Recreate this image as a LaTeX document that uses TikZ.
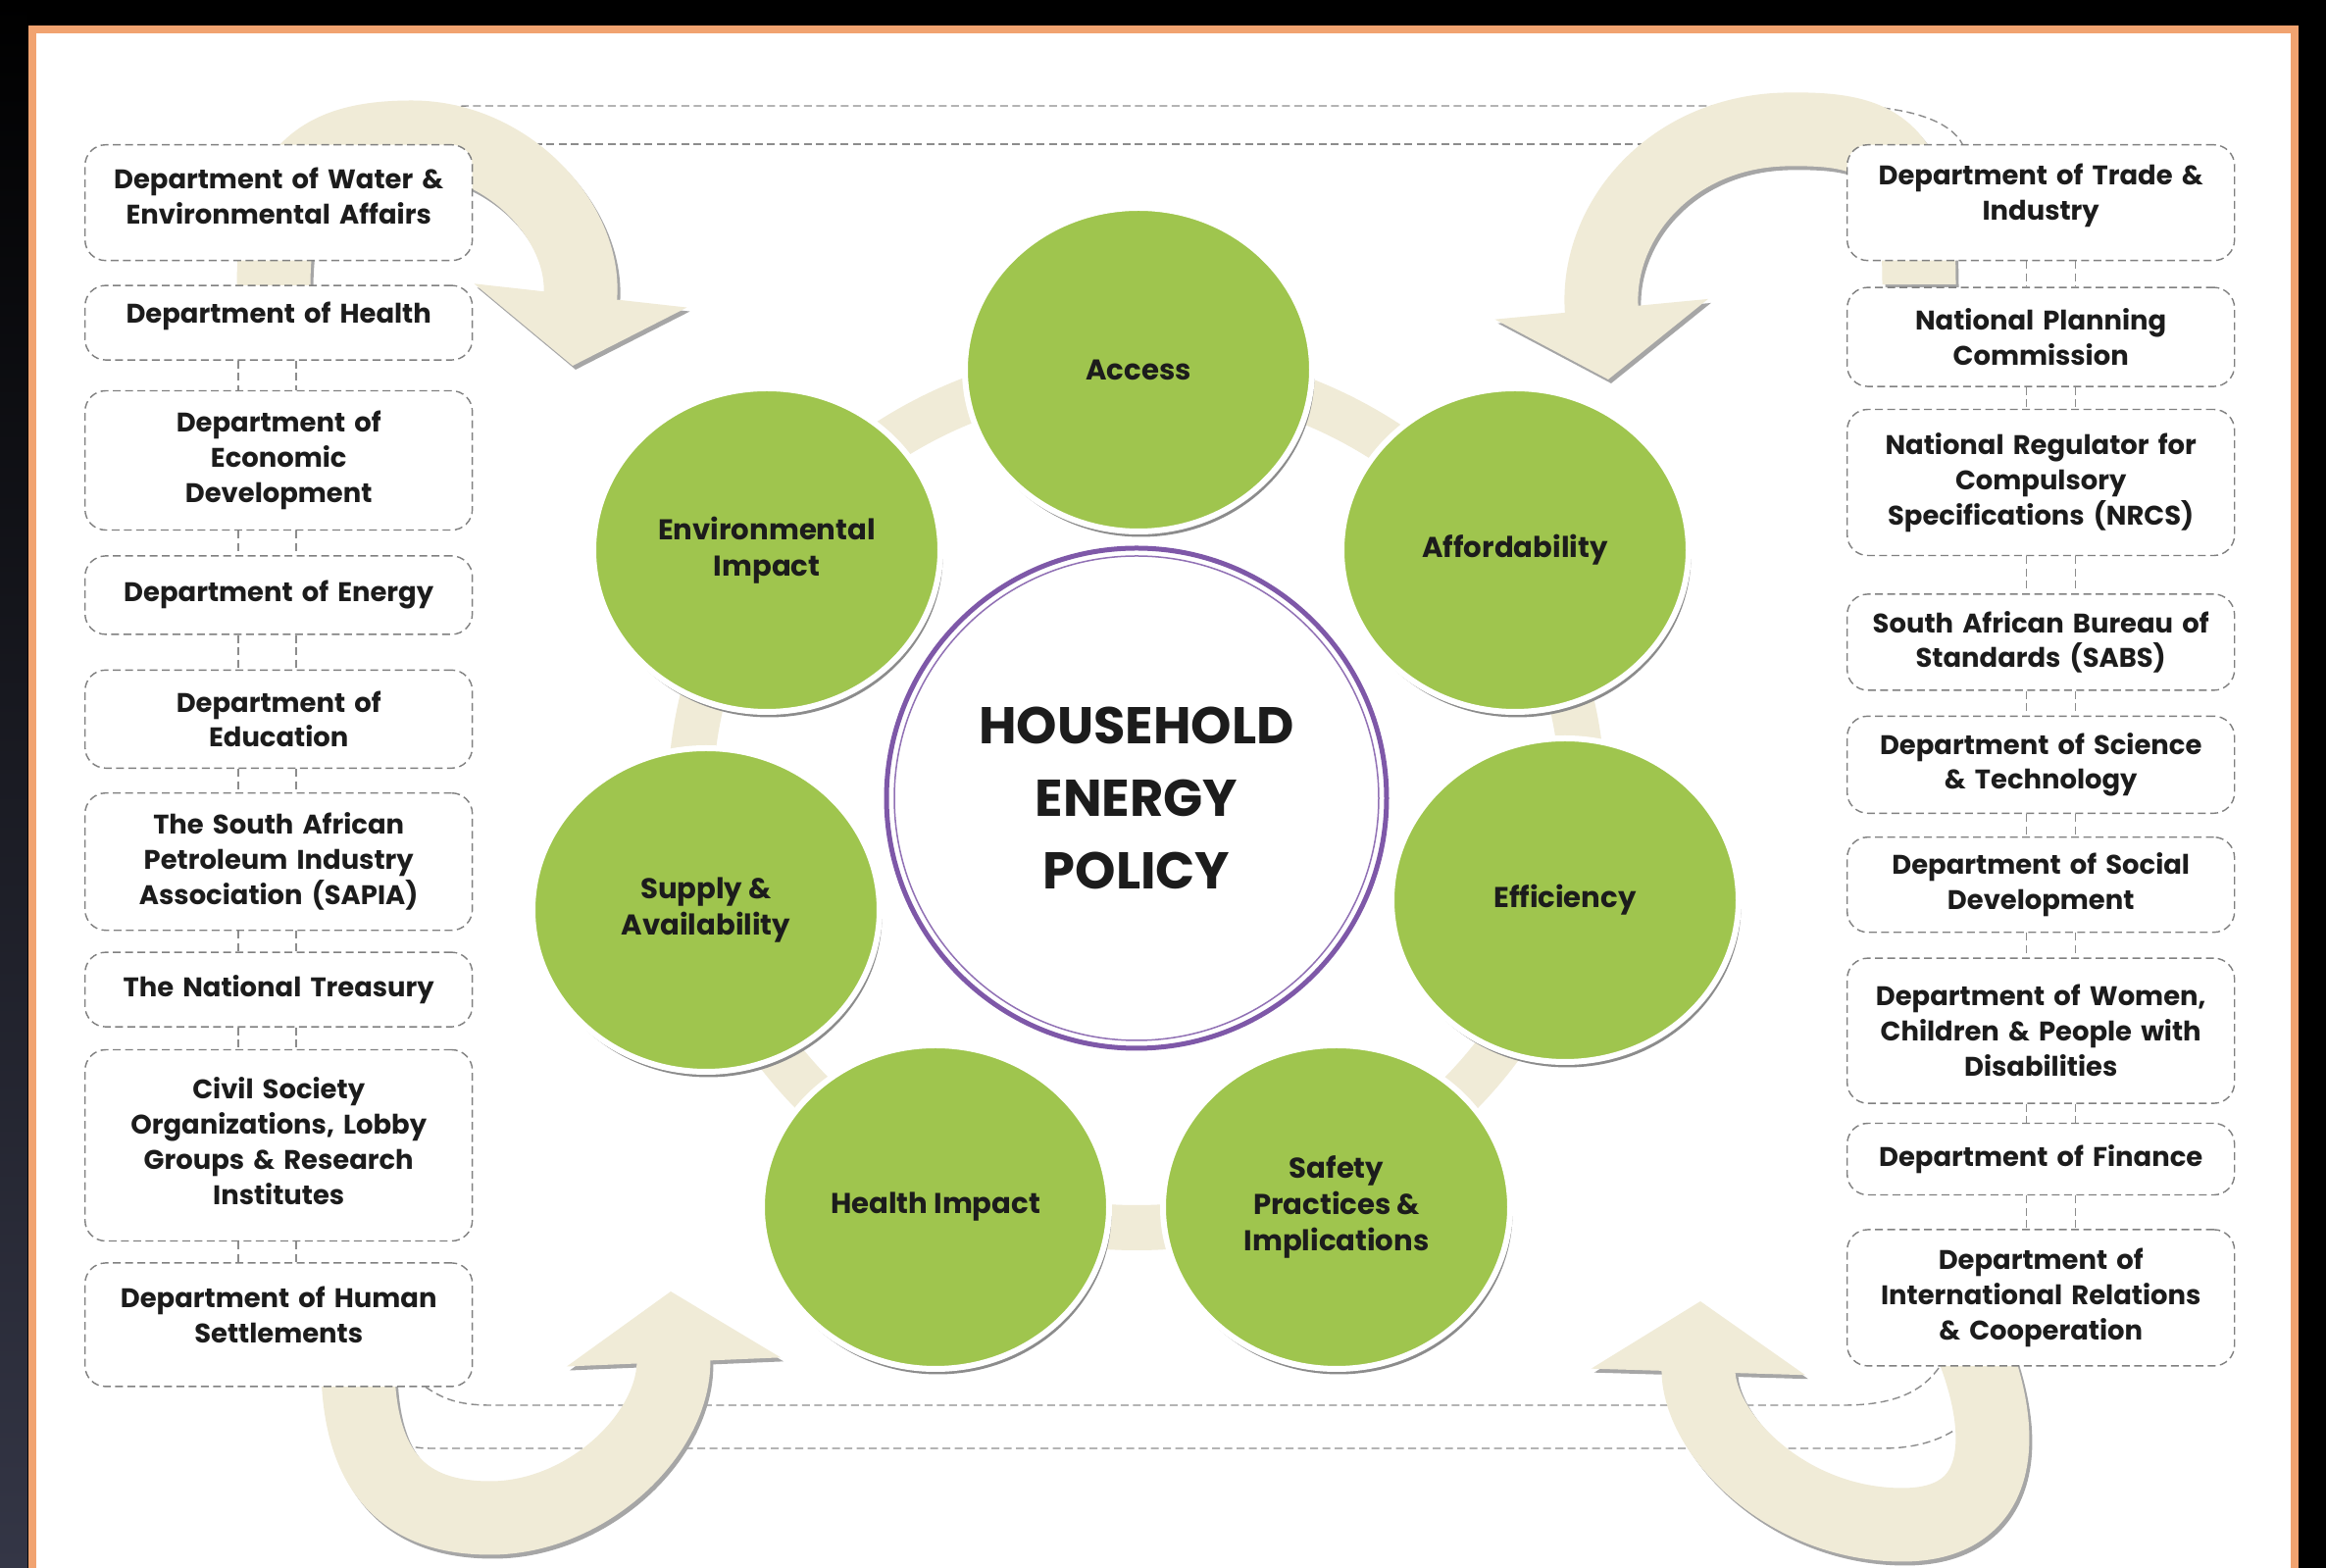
\documentclass[tikz,border=0pt]{standalone}
\usepackage{fontspec}
\setmainfont{Poppins}
\usetikzlibrary{shapes.geometric, arrows.meta, positioning, shadows, calc, backgrounds}

\definecolor{leaf}{RGB}{159,197,78}
\definecolor{cream}{RGB}{240,235,215}
\definecolor{frameorange}{RGB}{241,163,112}
\definecolor{ringpurple}{RGB}{126,88,168}
\definecolor{slate}{RGB}{52,54,70}
\definecolor{ink}{RGB}{28,28,28}

\newcommand{\deptfont}{\fontsize{7.8}{10.2}\selectfont\bfseries}
\newcommand{\topicfont}{\fontsize{8.3}{10.6}\selectfont\bfseries}
\newcommand{\hubfont}{\fontsize{15}{21}\selectfont\bfseries}

\tikzset{
    deptbox/.style={rectangle, rounded corners=6pt, draw=black!50, dash pattern=on 0.8mm off 0.45mm, line width=0.4pt, fill=white, minimum width=39.5mm, text width=37mm, align=center, font=\deptfont, text=ink, inner sep=1mm},
    raised/.style={execute at end node={\par\vspace{#1}}},
    raised/.default=1.4mm,
    topic/.style={ellipse, fill=leaf, draw=white, line width=0.6mm, minimum width=35.4mm, minimum height=33mm, align=center, font=\topicfont, text=ink, drop shadow={shadow xshift=0.25mm, shadow yshift=-0.55mm, fill=black!45, opacity=1}},
    hub/.style={circle, fill=white, draw=ringpurple, line width=0.5mm, minimum size=51mm, align=center, font=\hubfont, text=ink},
    link/.style={draw=black!45, dash pattern=on 0.8mm off 0.45mm, line width=0.4pt},
    bigarrow/.style={draw=cream, line width=7.5mm, -{Triangle[length=7.2mm, width=21.5mm]}},
    arrowshade/.style={bigarrow, draw=black!35, xshift=0.3mm, yshift=-0.4mm},
}

\begin{document}
\begin{tikzpicture}[x=0.1mm, y=-0.1mm]

\useasboundingbox (0,0) rectangle (2372,1599);
\clip (0,0) rectangle (2372,1599);

% stakeholder boxes, left column
\node[deptbox, raised, minimum height=11.8mm, anchor=north west] (wat) at (86,147) {Department of Water \&\\Environmental Affairs};
\node[deptbox, raised, minimum height=7.6mm, below=2.4mm of wat] (health) {Department of Health};
\node[deptbox, minimum height=14.2mm, below=3.0mm of health] (econ) {Department of\\Economic\\Development};
\node[deptbox, minimum height=8.0mm, below=2.5mm of econ] (energy) {Department of Energy};
\node[deptbox, minimum height=10.0mm, below=3.5mm of energy] (edu) {Department of\\Education};
\node[deptbox, minimum height=14.0mm, below=2.4mm of edu] (sapia) {The South African\\Petroleum Industry\\Association (SAPIA)};
\node[deptbox, minimum height=7.6mm, below=2.1mm of sapia] (treas) {The National Treasury};
\node[deptbox, raised=0.9mm, minimum height=19.5mm, below=2.2mm of treas] (civil) {Civil Society\\Organizations, Lobby\\Groups \& Research\\Institutes};
\node[deptbox, raised=2mm, minimum height=12.6mm, below=2.1mm of civil] (human) {Department of Human\\Settlements};

% stakeholder boxes, right column
\node[deptbox, raised, minimum height=11.8mm, anchor=north west] (trade) at (1883,147) {Department of Trade \&\\Industry};
\node[deptbox, minimum height=10.1mm, below=2.6mm of trade] (npc) {National Planning\\Commission};
\node[deptbox, minimum height=14.9mm, below=2.2mm of npc] (nrcs) {National Regulator for\\Compulsory\\Specifications (NRCS)};
\node[deptbox, minimum height=9.8mm, below=3.8mm of nrcs] (sabs) {South African Bureau of\\Standards (SABS)};
\node[deptbox, minimum height=9.9mm, below=2.5mm of sabs] (dst) {Department of Science\\\& Technology};
\node[deptbox, minimum height=9.7mm, below=2.3mm of dst] (social) {Department of Social\\Development};
\node[deptbox, minimum height=14.8mm, below=2.5mm of social] (women) {Department of Women,\\Children \& People with\\Disabilities};
\node[deptbox, minimum height=7.3mm, below=1.9mm of women] (fin) {Department of Finance};
\node[deptbox, minimum height=13.9mm, below=3.4mm of fin] (dirco) {Department of\\International Relations\\\& Cooperation};

% policy topics round the hub
\node[hub] (policy) at (1159,814) {HOUSEHOLD\\ENERGY\\POLICY};
\draw[ringpurple!85, line width=0.15mm] (policy.center) circle[radius=24.7mm];

\node[topic] (access) at (1161,377) {Access};
\node[topic] (afford) at (1545,561) {Affordability};
\node[topic] (effic) at (1596,918) {Efficiency};
\node[topic] (safety) at (1363,1231) {Safety\\Practices \&\\Implications};
\node[topic] (himpact) at (954,1231) {Health Impact};
\node[topic] (supply) at (720,928) {Supply \&\\Availability};
\node[topic] (envimp) at (782,561) {Environmental\\Impact};

\begin{scope}[on background layer]
% page frame
\fill[black] (0,0) rectangle (2372,1599);
\shade[top color=black, bottom color=slate] (0,0) rectangle (28,1599);
\fill[white] (33,30) rectangle (2340,1700);
\draw[frameorange, line width=0.8mm] (33,30) rectangle (2340,1700);

% dashed links between the two columns
\draw[link] (wat.north east) -- (trade.north west);
\draw[link] ($(wat.north)+(110,0)$) .. controls (420,120) and (440,108) .. (480,108) -- (1880,108) .. controls (1950,108) and (1990,125) .. ($(trade.north)+(-80,0)$);
\draw[link] ($(human.south)+(150,0)$) .. controls (450,1425) and (465,1433) .. (500,1433) -- (1880,1433) .. controls (1930,1433) and (1960,1420) .. ($(dirco.south west)+(95,0)$);
\draw[link] ($(human.south)+(90,0)$) .. controls (375,1460) and (400,1477) .. (440,1477) -- (1920,1477) .. controls (1980,1477) and (2025,1450) .. ($(dirco.south west)+(150,0)$);

\foreach \a/\b in {wat/health, health/econ, econ/energy, energy/edu, edu/sapia, sapia/treas, treas/civil, civil/human}
    \draw[link] ([xshift=-4.1mm]\a.south) -- ([xshift=-4.1mm]\b.north) ([xshift=1.8mm]\a.south) -- ([xshift=1.8mm]\b.north);
\foreach \a/\b in {trade/npc, npc/nrcs, nrcs/sabs, sabs/dst, dst/social, social/women, women/fin, fin/dirco}
    \draw[link] ([xshift=-1.5mm]\a.south) -- ([xshift=-1.5mm]\b.north) ([xshift=3.5mm]\a.south) -- ([xshift=3.5mm]\b.north);

% ring behind the topics
\draw[cream, line width=4.6mm] (policy.center) ellipse[x radius=455, y radius=438];

% curved arrows in the corners
\foreach \look in {arrowshade, bigarrow} {
    \draw[\look] (279,292) .. controls (279,170) and (330,140) .. (420,140) .. controls (520,140) and (600,230) .. (584,373);
    \draw[\look] (1957,290) .. controls (1957,150) and (1920,130) .. (1820,132) .. controls (1700,135) and (1625,230) .. (1640,387);
    \draw[\look] (365,1380) .. controls (362,1510) and (420,1548) .. (500,1548) .. controls (600,1548) and (690,1460) .. (684,1317);
    \draw[\look] (2010,1370) .. controls (2050,1470) and (2040,1555) .. (1940,1555) .. controls (1820,1555) and (1730,1460) .. (1734,1327);
}
\end{scope}

\end{tikzpicture}
\end{document}
